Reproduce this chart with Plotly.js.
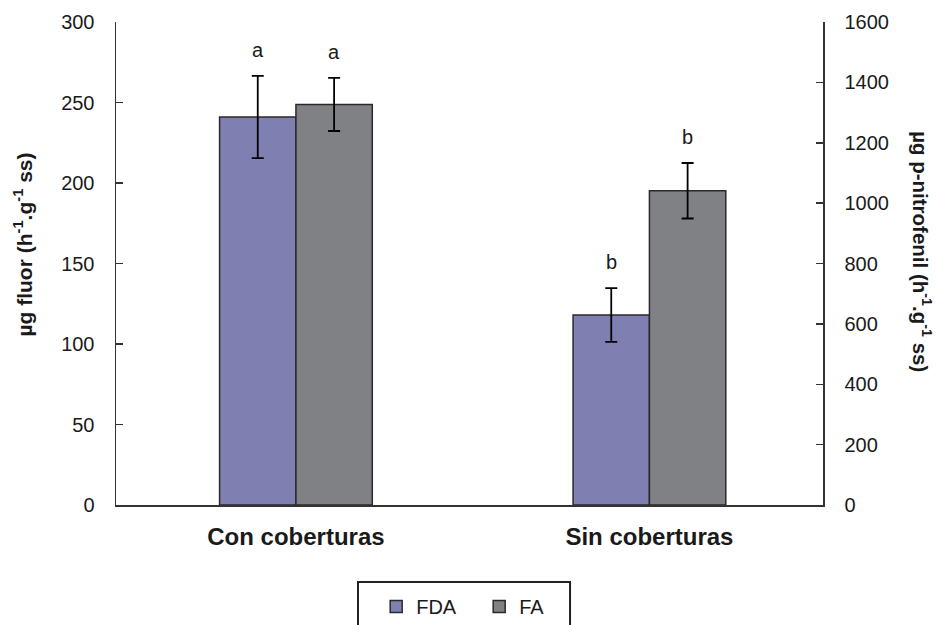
<!DOCTYPE html>
<html>
<head>
<meta charset="utf-8">
<script src="https://cdn.plot.ly/plotly-3.0.1.min.js"></script>
<style>html,body{margin:0;padding:0;background:#fff;}#chart{width:936px;height:625px;}</style>
</head>
<body>
<div id="chart"></div>
<script>
// Data
const categories = ["Con coberturas", "Sin coberturas"];
const fdaValues = [241, 118];          // µg fluor (left axis)
const fdaErrors = [25.5, 16.7];
const faValues = [1327, 1041];         // µg p-nitrofenil (right axis)
const faErrors = [88, 92];
const fdaLetters = ["a", "b"];
const faLetters = ["a", "b"];
const leftTicks = [0, 50, 100, 150, 200, 250, 300];
const rightTicks = [0, 200, 400, 600, 800, 1000, 1200, 1400, 1600];

const FONT = "Arial, 'Liberation Sans', sans-serif";
const TXT = "#1a1a1a";
const LINE = "#333333";
const BW = 0.216;

const xIdx = categories.map((c, i) => i);

const traces = [
  {
    type: "bar", name: "FDA", x: xIdx, y: fdaValues, yaxis: "y",
    width: BW, offset: -BW,
    marker: { color: "#7f7fb1", line: { color: "#2a2a2a", width: 1.5 } },
    error_y: { type: "data", array: fdaErrors, visible: true, color: "#000", thickness: 1.8, width: 6 }
  },
  {
    type: "bar", name: "FA", x: xIdx, y: faValues, yaxis: "y2",
    width: BW, offset: 0,
    marker: { color: "#808184", line: { color: "#2a2a2a", width: 1.5 } },
    error_y: { type: "data", array: faErrors, visible: true, color: "#000", thickness: 1.8, width: 6 }
  }
];

const annotations = [];
xIdx.forEach(i => {
  annotations.push({
    xref: "x", yref: "y", x: i - BW / 2, y: fdaValues[i] + fdaErrors[i],
    text: fdaLetters[i], showarrow: false, yanchor: "bottom", yshift: 13,
    font: { family: FONT, size: 20, color: TXT }
  });
  annotations.push({
    xref: "x", yref: "y2", x: i + BW / 2, y: faValues[i] + faErrors[i],
    text: faLetters[i], showarrow: false, yanchor: "bottom", yshift: 13,
    font: { family: FONT, size: 20, color: TXT }
  });
});
annotations.push({
  xref: "paper", yref: "paper", x: -0.131, y: 0.54, textangle: -90,
  text: "<b>µg fluor (h<sup>-1</sup>.g<sup>-1</sup> ss)</b>", showarrow: false,
  xanchor: "center", yanchor: "middle",
  font: { family: FONT, size: 21, color: TXT }
});
annotations.push({
  xref: "paper", yref: "paper", x: 1.139, y: 0.525, textangle: 90,
  text: "<b>µg p-nitrofenil (h<sup>-1</sup>.g<sup>-1</sup> ss)</b>", showarrow: false,
  xanchor: "center", yanchor: "middle",
  font: { family: FONT, size: 20.5, color: TXT }
});

const layout = {
  width: 936, height: 625,
  margin: { l: 116, r: 113, t: 22, b: 120, autoexpand: false },
  paper_bgcolor: "#fff", plot_bgcolor: "#fff",
  showlegend: true,
  legend: {
    orientation: "h", x: 0.368, xanchor: "left", y: -0.17, yanchor: "top",
    font: { family: FONT, size: 20, color: TXT },
    borderwidth: 0, bgcolor: "rgba(0,0,0,0)", entrywidth: 58, entrywidthmode: "pixels"
  },
  xaxis: {
    type: "linear", range: [-0.509, 1.491],
    tickmode: "array", tickvals: xIdx, ticktext: categories.map(c => "<b>" + c + "</b>"),
    showline: true, linecolor: LINE, linewidth: 1.5, ticks: "",
    showgrid: false, zeroline: false, ticklabelstandoff: 10,
    tickfont: { family: FONT, size: 24, color: TXT }, fixedrange: true
  },
  yaxis: {
    range: [0, 300], tickmode: "array", tickvals: leftTicks,
    showline: true, linecolor: LINE, linewidth: 1.5,
    ticks: "inside", ticklen: 7, tickcolor: LINE, tickwidth: 1.5,
    showgrid: false, zeroline: false, ticklabelstandoff: 16,
    tickfont: { family: FONT, size: 20, color: TXT }
  },
  yaxis2: {
    range: [0, 1600], tickmode: "array", tickvals: rightTicks,
    overlaying: "y", side: "right",
    showline: true, linecolor: LINE, linewidth: 1.5,
    ticks: "inside", ticklen: 7, tickcolor: LINE, tickwidth: 1.5,
    showgrid: false, zeroline: false, ticklabelstandoff: 16,
    tickfont: { family: FONT, size: 20, color: TXT }
  },
  shapes: [
    {
      type: "rect", xref: "paper", yref: "paper",
      x0: 0.3423, x1: 0.6422, y0: -0.1594, y1: -0.32,
      line: { color: "#222", width: 2 }, fillcolor: "rgba(0,0,0,0)"
    }
  ],
  annotations: annotations
};

Plotly.newPlot("chart", traces, layout, { displayModeBar: false, staticPlot: true });
</script>
</body>
</html>
